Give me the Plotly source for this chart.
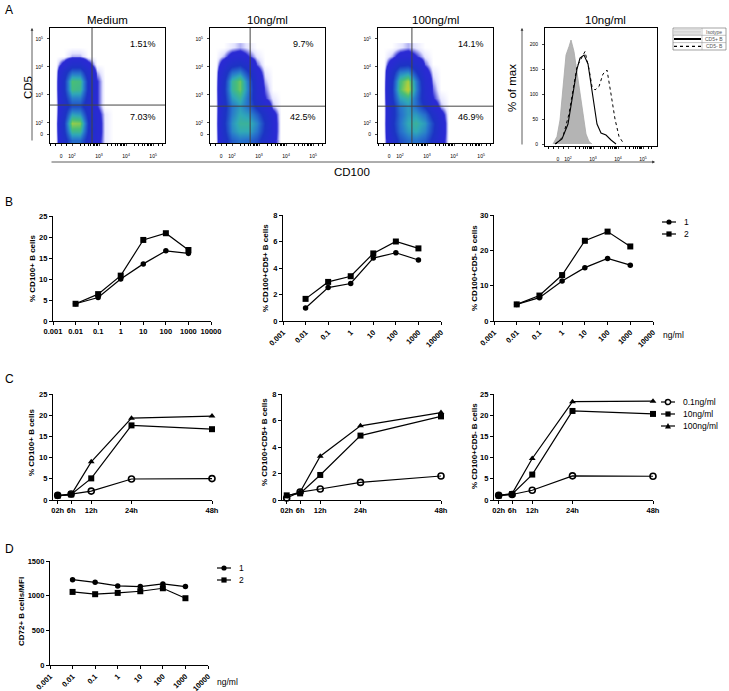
import plotly.graph_objects as go

W, H = 729, 691
FONT = "Arial, Liberation Sans, sans-serif"

# ---------------- panel A data ----------------
# density grids (columns = CD100 decade, rows = CD5 decade)
flow_x = [1.4, 1.7, 2.0, 2.3, 2.6, 2.9, 3.2, 3.5, 3.8]
flow_y = [1.4, 1.7, 2.0, 2.3, 2.6, 2.9, 3.2, 3.5, 3.8, 4.1, 4.4, 4.7]
dens_medium = [
    [0, 0.9, 2.0, 2.0, 1.0, 0.3, 0.05, 0, 0],
    [0, 1.2, 3.0, 3.0, 1.3, 0.35, 0.05, 0, 0],
    [0, 1.3, 3.6, 3.5, 1.4, 0.35, 0.05, 0, 0],
    [0, 1.0, 2.6, 2.5, 1.1, 0.3, 0.05, 0, 0],
    [0, 0.8, 1.6, 1.6, 0.8, 0.2, 0, 0, 0],
    [0, 1.0, 2.2, 2.2, 1.0, 0.2, 0, 0, 0],
    [0, 1.2, 3.1, 3.0, 1.2, 0.2, 0, 0, 0],
    [0, 1.2, 3.2, 3.1, 1.2, 0.2, 0, 0, 0],
    [0, 0.9, 2.0, 2.0, 0.8, 0.1, 0, 0, 0],
    [0, 0.3, 0.8, 0.8, 0.3, 0, 0, 0, 0],
    [0, 0, 0.1, 0.1, 0, 0, 0, 0, 0],
    [0, 0, 0, 0, 0, 0, 0, 0, 0],
]
dens_10 = [
    [0, 0.9, 1.8, 2.1, 2.0, 1.6, 0.9, 0.3, 0],
    [0, 1.1, 2.3, 2.7, 2.7, 2.1, 1.2, 0.35, 0],
    [0, 1.2, 2.4, 2.9, 2.9, 2.3, 1.3, 0.35, 0],
    [0, 1.1, 2.2, 2.7, 2.5, 1.8, 1.0, 0.3, 0],
    [0, 1.0, 2.1, 2.5, 2.0, 1.1, 0.5, 0.1, 0],
    [0, 1.1, 2.5, 2.9, 2.0, 0.7, 0.2, 0.05, 0],
    [0, 1.2, 2.9, 3.4, 2.2, 0.6, 0.15, 0, 0],
    [0, 1.1, 2.9, 3.4, 2.1, 0.5, 0.1, 0, 0],
    [0, 0.8, 2.0, 2.3, 1.4, 0.35, 0.05, 0, 0],
    [0, 0.4, 1.0, 1.2, 0.7, 0.15, 0, 0, 0],
    [0, 0.1, 0.3, 0.35, 0.2, 0.05, 0, 0, 0],
    [0, 0, 0.05, 0.1, 0.05, 0, 0, 0, 0],
]
dens_100 = [
    [0, 0.7, 1.6, 2.0, 2.1, 1.8, 1.1, 0.35, 0],
    [0, 1.0, 2.0, 2.5, 2.7, 2.3, 1.4, 0.4, 0],
    [0, 1.1, 2.1, 2.7, 2.9, 2.5, 1.5, 0.4, 0],
    [0, 1.0, 2.0, 2.5, 2.5, 2.0, 1.0, 0.3, 0],
    [0, 1.0, 2.1, 2.5, 2.0, 1.2, 0.4, 0.1, 0],
    [0, 1.2, 2.6, 2.9, 2.0, 0.8, 0.2, 0.05, 0],
    [0, 1.3, 3.2, 3.9, 2.3, 0.7, 0.15, 0, 0],
    [0, 1.2, 3.1, 3.7, 2.2, 0.6, 0.1, 0, 0],
    [0, 0.9, 2.2, 2.4, 1.4, 0.35, 0.05, 0, 0],
    [0, 0.4, 1.1, 1.2, 0.7, 0.15, 0, 0, 0],
    [0, 0.1, 0.3, 0.35, 0.2, 0.05, 0, 0, 0],
    [0, 0, 0.05, 0.1, 0.05, 0, 0, 0, 0],
]
flow_titles = ["Medium", "10ng/ml", "100ng/ml"]
gate_x = [2.74, 2.67, 2.44]
gate_y = [2.64, 2.6, 2.6]
pct_upper = ["1.51%", "9.7%", "14.1%"]
pct_lower = ["7.03%", "42.5%", "46.9%"]

# histogram (10ng/ml), x in decades, y in % of max
iso_x = [1.40, 1.56, 1.68, 1.80, 1.92, 2.04, 2.12, 2.24, 2.36, 2.48, 2.60, 2.72, 2.84, 2.96]
iso_y = [0, 15, 48, 110, 178, 195, 208, 185, 142, 100, 60, 20, 5, 0]
pos_x = [1.48, 1.76, 2.0, 2.2, 2.36, 2.48, 2.64, 2.8, 2.92, 3.04, 3.16, 3.32, 3.52, 3.72, 3.92]
pos_y = [0, 10, 40, 100, 150, 172, 178, 160, 120, 80, 40, 22, 18, 8, 0]
neg_x = [1.52, 1.80, 2.04, 2.2, 2.36, 2.52, 2.68, 2.84, 2.96, 3.08, 3.24, 3.4, 3.56, 3.72, 3.88, 4.04, 4.24]
neg_y = [0, 15, 60, 110, 155, 170, 185, 150, 115, 108, 115, 140, 148, 100, 50, 15, 0]
hist_legend = ["Isotype", "CD5+ B", "CD5- B"]

# ---------------- panel B data ----------------
dose = [0.01, 0.1, 1, 10, 100, 1000]
b1_s1 = [4.1, 5.6, 10.0, 13.6, 16.7, 16.1]
b1_s2 = [4.1, 6.4, 10.8, 19.3, 20.9, 16.9]
b2_s1 = [0.98, 2.52, 2.83, 4.75, 5.15, 4.6]
b2_s2 = [1.67, 2.95, 3.38, 5.1, 6.0, 5.48]
b3_s1 = [4.7, 6.6, 11.3, 15.1, 17.7, 15.8]
b3_s2 = [4.7, 7.2, 13.0, 22.7, 25.3, 21.1]
dose_ticks = [0.001, 0.01, 0.1, 1, 10, 100, 1000, 10000]
dose_labels = ["0.001", "0.01", "0.1", "1", "10", "100", "1000", "10000"]

# ---------------- panel C data ----------------
hours = [2, 6, 12, 24, 48]
hour_labels = ["02h", "6h", "12h", "24h", "48h"]
c1_01 = [1.1, 1.4, 2.1, 4.95, 5.05]
c1_10 = [1.0, 1.3, 5.1, 17.6, 16.7]
c1_100 = [1.0, 1.2, 9.0, 19.3, 19.8]
c2_01 = [0.15, 0.6, 0.83, 1.33, 1.81]
c2_10 = [0.35, 0.5, 1.89, 4.86, 6.31]
c2_100 = [0.3, 0.6, 3.3, 5.6, 6.6]
c3_01 = [1.1, 1.3, 2.3, 5.7, 5.6]
c3_10 = [1.0, 1.4, 6.0, 21.0, 20.3]
c3_100 = [1.1, 1.5, 9.8, 23.2, 23.3]
conc_names = ["0.1ng/ml", "10ng/ml", "100ng/ml"]

# ---------------- panel D data ----------------
d_s1 = [1231, 1193, 1140, 1131, 1169, 1131]
d_s2 = [1054, 1021, 1040, 1064, 1107, 963]


def px(x):
    return x / W


def py(y):
    return 1 - y / H


fig = go.Figure()
layout = {}
annotations = []
shapes = []

dens_scale = [
    [0, "#ffffff"], [0.015, "#e4e4ff"], [0.045, "#2a2ad4"], [0.3, "#1c34c4"],
    [0.5, "#2878cc"], [0.62, "#30a8b8"], [0.74, "#48be78"], [0.86, "#a8d040"], [1, "#e8c020"],
]
dec_vals = [1.6, 2, 3, 4, 5]
dec_text = ["0", "10<sup>2</sup>", "10<sup>3</sup>", "10<sup>4</sup>", "10<sup>5</sup>"]
minor_vals = [1.2, 1.4, 1.8] + [n + k for n in (2, 3, 4) for k in (0.301, 0.477, 0.602, 0.699, 0.778, 0.845, 0.903, 0.954)] + [5.2, 5.35]


def small_box_axes(i, left, right, top, bottom, xr, yr, yvals, ytext):
    layout[f"xaxis{i}"] = dict(
        domain=[px(left), px(right)], range=xr, anchor=f"y{i}", automargin=False,
        tickvals=dec_vals, ticktext=dec_text, tickfont=dict(size=5, family=FONT),
        showline=True, mirror=True, linecolor="black", linewidth=1,
        ticks="outside", ticklen=2, tickwidth=0.8, ticklabelstandoff=6,
        minor=dict(tickvals=minor_vals, ticks="outside", ticklen=1.5, tickcolor="black"),
        showgrid=False, zeroline=False,
    )
    layout[f"yaxis{i}"] = dict(
        domain=[py(bottom), py(top)], range=yr, anchor=f"x{i}", automargin=False,
        tickvals=yvals, ticktext=ytext, tickfont=dict(size=5, family=FONT),
        showline=True, mirror=True, linecolor="black", linewidth=1,
        ticks="outside", ticklen=2, tickwidth=0.8, ticklabelstandoff=3,
        showgrid=False, zeroline=False,
    )


# --- flow dot plots ---
flow_boxes = [(50, 165), (210, 325), (378, 493)]
flow_dens = [dens_medium, dens_10, dens_100]
for k in range(3):
    i = k + 1
    left, right = flow_boxes[k]
    small_box_axes(i, left, right, 28, 143, [1.185, 5.44], [1.286, 5.39], dec_vals, dec_text)
    fig.add_trace(go.Heatmap(
        x=flow_x, y=flow_y, z=flow_dens[k], zsmooth="best", colorscale=dens_scale,
        zmin=0, zmax=4.3, showscale=False, hoverinfo="skip",
        xaxis=f"x{i}", yaxis=f"y{i}",
    ))
    xr = "x" if i == 1 else f"x{i}"
    yr = "y" if i == 1 else f"y{i}"
    shapes.append(dict(type="line", xref=xr, yref=f"{yr} domain", x0=gate_x[k], x1=gate_x[k],
                       y0=0, y1=1, line=dict(color="#444", width=1)))
    shapes.append(dict(type="line", xref=f"{xr} domain", yref=yr, x0=0, x1=1,
                       y0=gate_y[k], y1=gate_y[k], line=dict(color="#444", width=1)))
    cx = (left + right) / 2
    annotations.append(dict(x=px(cx), y=py(20), text=flow_titles[k], font=dict(size=11.5)))
    annotations.append(dict(x=px(right - 22), y=py(44), text=pct_upper[k], font=dict(size=9)))
    annotations.append(dict(x=px(right - 22), y=py(117), text=pct_lower[k], font=dict(size=9)))

# --- histogram ---
small_box_axes(4, 545, 657, 28, 146, [1.08, 5.56], [-4, 232], [0, 50, 100, 150, 200],
               ["0", "50", "100", "150", "200"])
fig.add_trace(go.Scatter(x=iso_x, y=iso_y, mode="lines", fill="tozeroy", fillcolor="#b4b4b4",
                         line=dict(color="#a8a8a8", width=0.8), xaxis="x4", yaxis="y4"))
fig.add_trace(go.Scatter(x=pos_x, y=pos_y, mode="lines", line=dict(color="black", width=1.1),
                         xaxis="x4", yaxis="y4"))
fig.add_trace(go.Scatter(x=neg_x, y=neg_y, mode="lines", line=dict(color="black", width=1, dash="dot"),
                         xaxis="x4", yaxis="y4"))
annotations.append(dict(x=px(605), y=py(20), text="10ng/ml", font=dict(size=11.5)))

# histogram legend box
shapes.append(dict(type="rect", xref="paper", yref="paper", x0=px(673), x1=px(726), y0=py(50), y1=py(28),
                   line=dict(color="#666", width=0.6)))
for yy in (35.3, 42.6):
    shapes.append(dict(type="line", xref="paper", yref="paper", x0=px(673), x1=px(726), y0=py(yy), y1=py(yy),
                       line=dict(color="#888", width=0.5)))
shapes.append(dict(type="line", xref="paper", yref="paper", x0=px(702), x1=px(702), y0=py(50), y1=py(28),
                   line=dict(color="#888", width=0.5)))
for yy in (29.8, 31.3, 32.8, 34.2):
    shapes.append(dict(type="line", xref="paper", yref="paper", x0=px(674), x1=px(701), y0=py(yy), y1=py(yy),
                       line=dict(color="#999", width=0.5)))
shapes.append(dict(type="line", xref="paper", yref="paper", x0=px(674), x1=px(701), y0=py(39), y1=py(39),
                   line=dict(color="black", width=2)))
shapes.append(dict(type="line", xref="paper", yref="paper", x0=px(674), x1=px(701), y0=py(46.3), y1=py(46.3),
                   line=dict(color="black", width=1.2, dash="dot")))
for yy, t in zip((31.8, 39, 46.3), hist_legend):
    annotations.append(dict(x=px(714), y=py(yy), text=t, font=dict(size=5, color="#555")))

# panel A axis labels and arrows
annotations.append(dict(x=px(28), y=py(88), text="CD5", textangle=-90, font=dict(size=11.5)))
annotations.append(dict(x=px(512), y=py(88), text="% of max", textangle=-90, font=dict(size=11.5)))
annotations.append(dict(x=px(352), y=py(172), text="CD100", font=dict(size=11.5)))
arrow = dict(text="", showarrow=True, arrowhead=2, arrowsize=0.7, arrowwidth=0.8, arrowcolor="#333")
annotations.append(dict(arrow, x=px(32), y=py(28), ax=0, ay=114))
annotations.append(dict(arrow, x=px(522), y=py(28), ax=0, ay=118))
annotations.append(dict(arrow, x=px(655), y=py(162), ax=-605, ay=0))

# ---------------- B / C / D graphs ----------------
tick_font = dict(size=7.5, family=FONT, weight="bold", color="black")


def graph_axes(i, left, right, top, bottom, xopt, yr, ytick):
    xa = dict(domain=[px(left), px(right)], anchor=f"y{i}", showline=True, linecolor="black",
              linewidth=1.3, ticks="outside", ticklen=3, tickwidth=1.3, tickcolor="black",
              tickfont=tick_font, showgrid=False, zeroline=False, automargin=False)
    xa.update(xopt)
    layout[f"xaxis{i}"] = xa
    layout[f"yaxis{i}"] = dict(domain=[py(bottom), py(top)], anchor=f"x{i}", range=yr, tickvals=ytick,
                               showline=True, linecolor="black", linewidth=1.3, ticks="outside",
                               ticklen=3, tickwidth=1.3, tickcolor="black", tickfont=tick_font,
                               showgrid=False, zeroline=False, automargin=False)


def log_x(angle):
    return dict(type="log", range=[-3, 4], tickvals=dose_ticks, ticktext=dose_labels, tickangle=angle)


time_x = dict(range=[0.6, 48], tickvals=hours, ticktext=hour_labels, tickangle=0)


def line_trace(i, x, y, symbol, size=6):
    return go.Scatter(x=x, y=y, mode="lines+markers", cliponaxis=False,
                      line=dict(color="black", width=1.2),
                      marker=dict(symbol=symbol, size=size, color="black",
                                  line=dict(color="black", width=1.6 if "open" in symbol else 0)),
                      xaxis=f"x{i}", yaxis=f"y{i}")


# B
graph_axes(5, 53, 211, 216, 321, log_x(0), [0, 25], [0, 5, 10, 15, 20, 25])
graph_axes(6, 283, 441, 215, 321, log_x(-45), [0, 8], [0, 2, 4, 6, 8])
graph_axes(7, 494, 653, 215, 321, log_x(-45), [0, 30], [0, 10, 20, 30])
for i, s1, s2 in ((5, b1_s1, b1_s2), (6, b2_s1, b2_s2), (7, b3_s1, b3_s2)):
    fig.add_trace(line_trace(i, dose, s1, "circle", 5.5))
    fig.add_trace(line_trace(i, dose, s2, "square", 6))

# C
graph_axes(8, 53, 212, 394, 500, time_x, [0, 25], [0, 5, 10, 15, 20, 25])
graph_axes(9, 282, 441, 394, 500, time_x, [0, 8], [0, 2, 4, 6, 8])
graph_axes(10, 494, 653, 394, 500, time_x, [0, 25], [0, 5, 10, 15, 20, 25])
for i, a, b, c in ((8, c1_01, c1_10, c1_100), (9, c2_01, c2_10, c2_100), (10, c3_01, c3_10, c3_100)):
    fig.add_trace(line_trace(i, hours, a, "circle-open", 6))
    fig.add_trace(line_trace(i, hours, b, "square", 6))
    fig.add_trace(line_trace(i, hours, c, "triangle-up", 6))

# D
graph_axes(11, 50, 208, 561, 665, log_x(-45), [0, 1500], [0, 500, 1000, 1500])
fig.add_trace(line_trace(11, dose, d_s1, "circle", 5.5))
fig.add_trace(line_trace(11, dose, d_s2, "square", 6))

# y titles
ytitle_font = dict(size=8, family=FONT, weight="bold")
for x, y, t in ((32, 268, "% CD100+ B cells"), (265, 268, "% CD100+CD5+ B cells"),
                (474, 268, "% CD100+CD5- B cells"), (32, 442, "% CD100+ B cells"),
                (265, 442, "% CD100+CD5+ B cells"), (474, 446, "% CD100+CD5- B cells"),
                (21, 612, "CD72+ B cells/MFI")):
    annotations.append(dict(x=px(x), y=py(y), text=t, textangle=-90, font=ytitle_font))

annotations.append(dict(x=px(673), y=py(335), text="ng/ml", font=dict(size=8.5)))
annotations.append(dict(x=px(227), y=py(682), text="ng/ml", font=dict(size=8.5)))

# panel letters
for x, y, t in ((9, 10, "A"), (9, 202, "B"), (9, 379, "C"), (9, 549, "D")):
    annotations.append(dict(x=px(x), y=py(y), text=t, font=dict(size=12)))


# manual legends
def legend_item(cx, cy, symbol, label):
    shapes.append(dict(type="line", xref="paper", yref="paper", x0=px(cx - 7), x1=px(cx + 7),
                       y0=py(cy), y1=py(cy), line=dict(color="black", width=1.2)))
    r = 2.6
    if symbol == "circle":
        shapes.append(dict(type="circle", xref="paper", yref="paper", x0=px(cx - r), x1=px(cx + r),
                           y0=py(cy + r), y1=py(cy - r), fillcolor="black", line=dict(width=0)))
    elif symbol == "circle-open":
        shapes.append(dict(type="circle", xref="paper", yref="paper", x0=px(cx - r), x1=px(cx + r),
                           y0=py(cy + r), y1=py(cy - r), fillcolor="white", line=dict(color="black", width=1.5)))
    elif symbol == "square":
        shapes.append(dict(type="rect", xref="paper", yref="paper", x0=px(cx - r), x1=px(cx + r),
                           y0=py(cy + r), y1=py(cy - r), fillcolor="black", line=dict(width=0)))
    else:
        path = f"M {px(cx - 3)} {py(cy + 2.5)} L {px(cx + 3)} {py(cy + 2.5)} L {px(cx)} {py(cy - 3)} Z"
        shapes.append(dict(type="path", xref="paper", yref="paper", path=path, fillcolor="black",
                           line=dict(width=0)))
    annotations.append(dict(x=px(cx + 13), y=py(cy), text=label, xanchor="left", font=dict(size=8.5)))


legend_item(669, 222, "circle", "1")
legend_item(669, 234, "square", "2")
legend_item(668, 402, "circle-open", conc_names[0])
legend_item(668, 414, "square", conc_names[1])
legend_item(668, 426, "triangle", conc_names[2])
legend_item(224, 568, "circle", "1")
legend_item(224, 580, "square", "2")

for a in annotations:
    a.setdefault("xref", "paper")
    a.setdefault("yref", "paper")
    a.setdefault("showarrow", False)
    a.setdefault("xanchor", "center")
    a.setdefault("yanchor", "middle")

# plain axis ids: xaxis1 -> xaxis
layout["xaxis"] = layout.pop("xaxis1")
layout["yaxis"] = layout.pop("yaxis1")
layout["xaxis"]["anchor"] = "y"
layout["yaxis"]["anchor"] = "x"
fig.data[0].xaxis = "x"
fig.data[0].yaxis = "y"

fig.update_layout(
    width=W, height=H, margin=dict(l=0, r=0, t=0, b=0),
    paper_bgcolor="white", plot_bgcolor="white", showlegend=False,
    font=dict(family=FONT, color="black"),
    annotations=annotations, shapes=shapes, **layout,
)

# page body has an 8px default margin; drop it so the figure sits at 0,0
fig.write_html("out.html", config={"displayModeBar": False},
               post_script="document.body.style.margin = '0';")
